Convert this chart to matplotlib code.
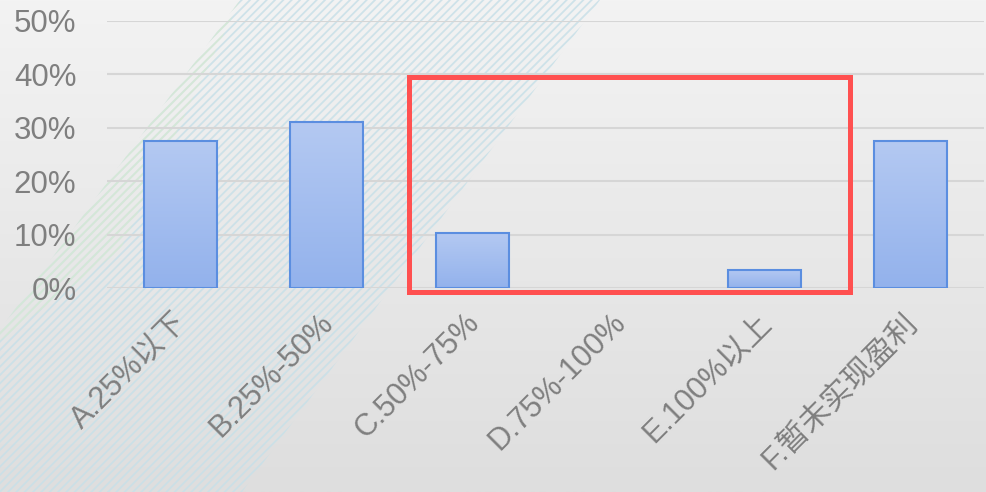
# 投资回报率分布柱状图
import numpy as np
import matplotlib.pyplot as plt
import matplotlib.transforms as mtransforms
from matplotlib.patches import Rectangle, Polygon

plt.rcParams['font.family'] = ['Liberation Sans', 'Noto Sans CJK SC', 'DejaVu Sans']
plt.rcParams['hatch.linewidth'] = 1.3

# 数据
categories = ['A.25%以下', 'B.25%-50%', 'C.50%-75%', 'D.75%-100%', 'E.100%以上', 'F.暂未实现盈利']
shares = [0.276, 0.310, 0.103, 0.0, 0.034, 0.276]
y_ticks = [0, 0.1, 0.2, 0.3, 0.4, 0.5]
y_labels = ['0%', '10%', '20%', '30%', '40%', '50%']

fig = plt.figure(figsize=(9.86, 4.92), dpi=100)

# 背景渐变
bg = fig.add_axes([0, 0, 1, 1], zorder=0)
grad = np.linspace(0, 1, 256).reshape(-1, 1)
bg.imshow(grad, aspect='auto', extent=[0, 986, 492, 0],
          cmap=plt.matplotlib.colors.LinearSegmentedColormap.from_list('bg', ['#f3f3f3', '#dedede']))
# 斜线装饰
band = Polygon([(240, 0), (600, 0), (242, 492), (-118, 492)], closed=True,
               facecolor='none', edgecolor='#c8e0e8', hatch='////', linewidth=0, alpha=0.85)
bg.add_patch(band)
band2 = Polygon([(120, 250), (240, 0), (-118, 492), (-200, 492)], closed=True,
                facecolor='none', edgecolor='#d8ead2', hatch='////', linewidth=0, alpha=0.75)
bg.add_patch(band2)
bg.set_xlim(0, 986)
bg.set_ylim(492, 0)
bg.axis('off')

ax = fig.add_axes([107 / 986, 204 / 492, 877 / 986, 267 / 492], zorder=1)
ax.patch.set_alpha(0)

x = np.arange(len(categories))
edge_colors = ['#5b8ee0' if v > 0 else 'none' for v in shares]
bars = ax.bar(x, shares, width=0.5, facecolor='none', edgecolor=edge_colors, linewidth=1.5, zorder=3)

# 柱子渐变填充（上浅下深）
bar_grad = np.linspace(0, 1, 100).reshape(-1, 1)
bar_cmap = plt.matplotlib.colors.LinearSegmentedColormap.from_list('bar', ['#b4c9f2', '#93b2ec'])
for b in bars:
    if b.get_height() <= 0:
        continue
    im = ax.imshow(bar_grad, aspect='auto', cmap=bar_cmap, zorder=2, origin='upper',
                   extent=[b.get_x(), b.get_x() + b.get_width(), 0, b.get_height()])
    im.set_clip_path(b)

ax.set_xlim(-0.5, len(categories) - 0.5)
ax.set_ylim(0, 0.5)
ax.set_yticks(y_ticks)
ax.set_yticklabels(y_labels)
ax.set_xticks(x)
ax.set_xticklabels(categories, rotation=45, ha='right', va='top', rotation_mode='anchor')
ax.grid(axis='y', color='#d6d6d6', linewidth=1.5, zorder=1)
ax.set_axisbelow(True)
for s in ax.spines.values():
    s.set_visible(False)
ax.tick_params(axis='y', length=0, pad=22, labelsize=22.5, labelcolor='#7f7f7f')
ax.tick_params(axis='x', length=0, pad=14, labelsize=22, labelcolor='#7f7f7f')

# 标签稍微左移
shift = mtransforms.ScaledTranslation(-8 / 100, 0, fig.dpi_scale_trans)
for lbl in ax.get_xticklabels():
    lbl.set_transform(lbl.get_transform() + shift)

# 红框标注
ax.add_patch(Rectangle((1.565, -0.0075), 3.02, 0.4025, fill=False, edgecolor='#ff5050',
                       linewidth=3.6, clip_on=False, zorder=5))

fig.savefig('out.png', dpi=100)
